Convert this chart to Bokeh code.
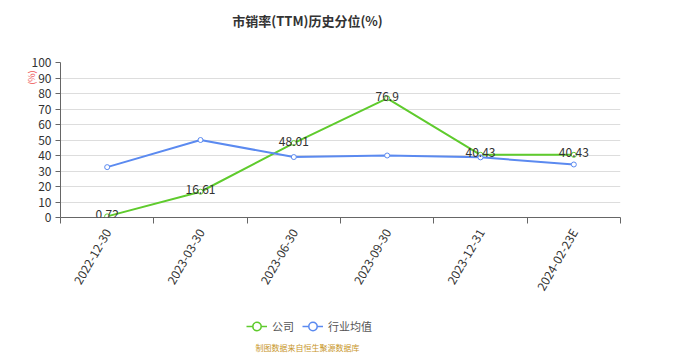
import math
from bokeh.plotting import figure
from bokeh.layouts import column
from bokeh.core.properties import value
from bokeh.models import (ColumnDataSource, FixedTicker, Legend, LegendItem,
                          Range1d, LabelSet, Title, Label)
from bokeh.embed import file_html
from bokeh.resources import INLINE

categories = ["2022-12-30", "2023-03-30", "2023-06-30", "2023-09-30", "2023-12-31", "2024-02-23E"]
company = [0.72, 16.61, 48.01, 76.9, 40.43, 40.43]
industry = [32.5, 50.0, 39.0, 40.0, 38.8, 34.2]
company_labels = ["0.72", "16.61", "48.01", "76.9", "40.43", "40.43"]
y_ticks = [0, 10, 20, 30, 40, 50, 60, 70, 80, 90, 100]

GREEN = "#5fcb2d"
BLUE = "#5b8af0"
FONT = "Noto Sans CJK SC"
W = 684

xs = [i + 0.5 for i in range(len(categories))]
src = ColumnDataSource(dict(x=xs, company=company, industry=industry, lab=company_labels))


def blank(height):
    # strip without axes; its frame lines up with the main chart's frame in the column
    f = figure(width=W, height=height, output_backend="svg", toolbar_location=None,
               x_axis_type=None, y_axis_type=None,
               x_range=Range1d(-2, -1), y_range=Range1d(0, 1),
               min_border=0, margin=0)
    f.outline_line_color = None
    f.xgrid.grid_line_color = None
    f.ygrid.grid_line_color = None
    return f


# ---------- title strip ----------
top = blank(40)
top.add_layout(Label(x=247, y=20, x_units="screen", y_units="screen", text="市销率(TTM)历史分位(%)",
                     text_align="center", text_baseline="middle", text_font=FONT,
                     text_font_size="13px", text_font_style="bold", text_color="#333333"))

# ---------- main chart ----------
p = figure(width=W, height=260, output_backend="svg", toolbar_location=None,
           x_range=Range1d(0, len(categories)), y_range=Range1d(0, 100),
           min_border_left=60, min_border_right=64, min_border_top=22, min_border_bottom=83,
           margin=0)
p.outline_line_color = None

p.xaxis.ticker = FixedTicker(ticks=xs, minor_ticks=list(range(len(categories) + 1)))
p.xaxis.major_label_overrides = {x: c for x, c in zip(xs, categories)}
p.xaxis.major_label_orientation = math.pi / 3
p.xaxis.major_tick_out = 0
p.xaxis.major_tick_in = 0
p.xaxis.minor_tick_out = 6
p.xaxis.minor_tick_in = 0
p.xaxis.minor_tick_line_color = "#666666"
p.xaxis.axis_line_color = "#666666"
p.xaxis.major_label_text_font = FONT
p.xaxis.major_label_text_font_size = "12px"
p.xaxis.major_label_text_color = "#333333"
p.xaxis.major_label_standoff = 6

p.yaxis.ticker = FixedTicker(ticks=y_ticks, minor_ticks=[])
p.yaxis.major_tick_out = 5
p.yaxis.major_tick_in = 0
p.yaxis.major_tick_line_color = "#666666"
p.yaxis.axis_line_color = "#666666"
p.yaxis.major_label_text_font = FONT
p.yaxis.major_label_text_font_size = "12px"
p.yaxis.major_label_text_color = "#333333"
p.yaxis.major_label_standoff = 4

p.xgrid.grid_line_color = None
p.ygrid.ticker = FixedTicker(ticks=y_ticks)
p.ygrid.grid_line_color = "#dddddd"
p.ygrid.grid_line_width = 1

p.line("x", "company", source=src, line_color=GREEN, line_width=2)
p.scatter("x", "company", source=src, size=5, line_color=GREEN, fill_color="white", line_width=1)
p.line("x", "industry", source=src, line_color=BLUE, line_width=2)
p.scatter("x", "industry", source=src, size=5, line_color=BLUE, fill_color="white", line_width=1)

p.add_layout(LabelSet(x="x", y="company", text="lab", source=src, text_align="center",
                      text_baseline="middle", text_font=value(FONT), text_font_size=value("12px"),
                      text_color="#333333", y_offset=2))

p.add_layout(Title(text="(%)", align="right", offset=8, standoff=-18, text_font=FONT,
                   text_font_size="9px", text_font_style="normal", text_color="#ee5555"), "left")

# ---------- legend + source strip ----------
bot = blank(64)
# same series drawn in the strip (outside its visible range) so the legend has real glyphs
lg1 = bot.line("x", "company", source=src, line_color=GREEN, line_width=1.5)
lc1 = bot.scatter("x", "company", source=src, size=10, line_color=GREEN, fill_color="white", line_width=1.5)
lg2 = bot.line("x", "industry", source=src, line_color=BLUE, line_width=1.5)
lc2 = bot.scatter("x", "industry", source=src, size=10, line_color=BLUE, fill_color="white", line_width=1.5)

legend = Legend(items=[LegendItem(label="公司", renderers=[lg1, lc1]),
                       LegendItem(label="行业均值", renderers=[lg2, lc2])],
                orientation="horizontal", location=(186, 27),
                background_fill_alpha=0, border_line_color=None,
                label_text_font=FONT, label_text_font_size="11px", label_text_color="#555555",
                glyph_width=21, glyph_height=22, spacing=8, label_standoff=5,
                padding=4, margin=0)
bot.add_layout(legend, "center")

bot.add_layout(Label(x=247, y=17, x_units="screen", y_units="screen", text="制图数据来自恒生聚源数据库",
                     text_align="center", text_baseline="middle", text_font=FONT,
                     text_font_size="8px", text_color="#c8962a"))

layout = column(top, p, bot, spacing=0, margin=0)
open("out.html", "w").write(file_html(layout, INLINE))
